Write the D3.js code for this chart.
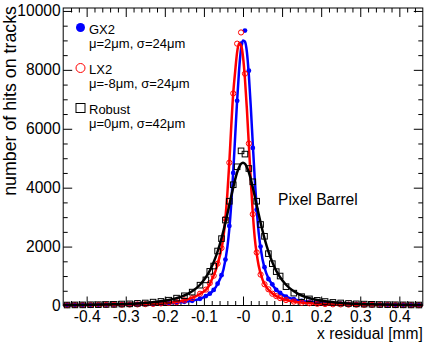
<!DOCTYPE html>
<html>
<head>
<meta charset="utf-8">
<script src="https://cdn.jsdelivr.net/npm/d3@7"></script>
<style>
  body { margin: 0; background: #fff; }
  text { font-family: "Liberation Sans", Arial, Helvetica, sans-serif; }
</style>
</head>
<body>
<svg id="chart" width="431" height="343"></svg>
<script>
// residual histograms: 0.02 mm bins in the tails, 0.01 mm bins in the core
const binCenters = [...d3.range(-0.45, -0.1, 0.02), ...d3.range(-0.095, 0.1, 0.01), ...d3.range(0.11, 0.46, 0.02)];

const gx2Hits = [17,19,20,24,24,28,29,35,37,44,49,58,66,81,96,127,160,230,
  320,400,530,740,1030,1560,2700,4500,6950,8890,9335,7970,5350,3250,2000,1300,900,720,530,430,
  300,218,160,120,95,82,67,59,48,44,38,35,30,29,24,24,20,19];
const lx2Hits = [13,15,17,17,21,21,26,27,33,37,46,53,71,87,113,176,250,400,
  540,760,1010,1420,1950,2950,4850,7200,8890,9270,7870,5500,3100,1800,1050,720,550,400,320,250,
  185,132,93,76,58,50,41,37,30,28,23,22,18,18,15,15,12,12];
const robustHits = [16,20,21,26,28,35,39,50,56,73,85,115,138,180,250,330,455,690,
  870,1160,1340,1850,2270,2900,3540,4100,4710,5250,5140,4650,4200,3540,2750,2350,1760,1420,1150,1000,
  640,420,300,225,175,135,105,86,70,56,47,41,34,29,25,22,19,17];

// fitted curves, read at these x positions
const fitX = [-0.46,-0.42,-0.38,-0.34,-0.30,-0.26,-0.22,-0.19,-0.16,-0.14,-0.12,-0.11,-0.10,-0.09,-0.08,-0.07,-0.06,-0.05,-0.04,-0.035,
  -0.03,-0.025,-0.02,-0.015,-0.01,-0.005,0,0.005,0.01,0.015,0.02,0.025,0.03,0.035,0.04,0.05,0.06,0.07,0.08,0.09,
  0.10,0.11,0.12,0.14,0.16,0.19,0.22,0.26,0.30,0.34,0.38,0.42,0.46];
const gx2Fit = [17,20,24,29,36,46,61,79,108,140,190,225,282,355,458,616,866,1224,1980,2600,
  3470,4540,5750,6970,7990,8720,9000,8960,8600,7810,6730,5500,4310,3280,2480,1560,1080,808,616,476,
  378,304,250,182,135,98,74,54,41,32,27,22,18];
const lx2Fit = [13,16,19,23,30,41,61,89,144,214,317,394,474,610,872,1186,1650,2333,3800,4850,
  6100,7200,7950,8600,8900,8830,8450,7690,6660,5450,4230,3150,2300,1760,1360,880,624,468,360,284,
  230,188,158,112,85,60,45,33,26,20,16,14,11];
const robustFit = [15,20,26,37,52,79,125,186,290,404,581,705,862,1062,1318,1641,2045,2536,3106,3409,
  3714,4010,4283,4516,4696,4811,4850,4811,4696,4516,4283,4010,3714,3409,3106,2536,2045,1641,1318,1062,
  862,705,581,404,290,186,125,79,52,37,26,20,15];

const xTicks = [-0.4,-0.3,-0.2,-0.1,0,0.1,0.2,0.3,0.4];
const xTickLabels = ["-0.4","-0.3","-0.2","-0.1","-0","0.1","0.2","0.3","0.4"];
const yTicks = [0,2000,4000,6000,8000,10000];

const legendNames = ["GX2","LX2","Robust"];
const legendStats = ["\u03bc=2\u03bcm, \u03c3=24\u03bcm","\u03bc=-8\u03bcm, \u03c3=24\u03bcm","\u03bc=0\u03bcm, \u03c3=42\u03bcm"];

const svg = d3.select("#chart");
const L = 63.2, R = 422.8, T = 8, B = 305.5;

const x = d3.scaleLinear().domain([-0.46, 0.46]).range([L, R]);
const y = d3.scaleLinear().domain([0, 10100]).range([B, T]);

const xMinor = d3.range(-0.44, 0.45, 0.02).filter(v => Math.abs(Math.round(v * 50) % 5) != 0);
const yMinor = d3.range(500, 10100, 500).filter(v => v % 2000 != 0);

function addAxis(axis, tr, cls) {
  svg.append("g").attr("class", cls).attr("transform", tr).call(axis)
    .call(g => g.select(".domain").remove());
}

// major and minor ticks on all four sides, pointing inwards
addAxis(d3.axisBottom(x).tickValues(xTicks).tickSize(-9).tickPadding(5)
  .tickFormat((d, i) => xTickLabels[i]), `translate(0,${B})`, "xaxis");
addAxis(d3.axisBottom(x).tickValues(xMinor).tickSize(-4.5).tickFormat(""), `translate(0,${B})`, "minor");
addAxis(d3.axisTop(x).tickValues(xTicks).tickSize(-9).tickFormat(""), `translate(0,${T})`, "minor");
addAxis(d3.axisTop(x).tickValues(xMinor).tickSize(-4.5).tickFormat(""), `translate(0,${T})`, "minor");
addAxis(d3.axisLeft(y).tickValues(yTicks).tickSize(-9).tickPadding(2.5)
  .tickFormat(d3.format("d")), `translate(${L},0)`, "yaxis");
addAxis(d3.axisLeft(y).tickValues(yMinor).tickSize(-4.5).tickFormat(""), `translate(${L},0)`, "minor");
addAxis(d3.axisRight(y).tickValues(yTicks).tickSize(-9).tickFormat(""), `translate(${R},0)`, "minor");
addAxis(d3.axisRight(y).tickValues(yMinor).tickSize(-4.5).tickFormat(""), `translate(${R},0)`, "minor");

svg.selectAll(".tick line").attr("stroke", "#000").attr("stroke-width", 1);
svg.selectAll(".xaxis text, .yaxis text").attr("font-size", 15.6).attr("fill", "#000")
  .attr("font-family", "Liberation Sans, Arial, sans-serif");

svg.append("rect").attr("x", L).attr("y", T).attr("width", R - L).attr("height", B - T)
  .attr("fill", "none").attr("stroke", "#000").attr("stroke-width", 1);

// axis titles
svg.append("text").attr("x", R).attr("y", 339).attr("text-anchor", "end")
  .attr("font-size", 15.6).text("x residual [mm]");
svg.append("text").attr("transform", "translate(16,6) rotate(-90)").attr("text-anchor", "end")
  .attr("font-size", 17.8).text("number of hits on tracks");

const plot = svg.append("g");
const fitLine = vals => d3.line().x((d, i) => x(fitX[i])).y(d => y(d)).curve(d3.curveMonotoneX)(vals);

function drawSeries(hits, fit, color, kind) {
  const g = plot.append("g");
  if (kind == "disc") {
    g.selectAll("circle").data(hits).enter().append("circle")
      .attr("cx", (d, i) => x(binCenters[i])).attr("cy", d => y(d)).attr("r", 2.4)
      .attr("fill", color);
  } else if (kind == "circle") {
    g.selectAll("circle").data(hits).enter().append("circle")
      .attr("cx", (d, i) => x(binCenters[i])).attr("cy", d => y(d)).attr("r", 2.6)
      .attr("fill", "none").attr("stroke", color).attr("stroke-width", 1);
  } else {
    g.selectAll("rect").data(hits).enter().append("rect")
      .attr("x", (d, i) => x(binCenters[i]) - 2.8).attr("y", d => y(d) - 2.8)
      .attr("width", 5.6).attr("height", 5.6)
      .attr("fill", "none").attr("stroke", color).attr("stroke-width", 1);
  }
  g.append("path").attr("d", fitLine(fit)).attr("fill", "none")
    .attr("stroke", color).attr("stroke-width", 2.5);
}

drawSeries(gx2Hits, gx2Fit, "#0000ff", "disc");
drawSeries(lx2Hits, lx2Fit, "#ff0000", "circle");
drawSeries(robustHits, robustFit, "#000000", "square");

// legend
const leg = svg.append("g");
const legY = [27.5, 68, 108];
leg.append("circle").attr("cx", 80.5).attr("cy", legY[0]).attr("r", 4.5).attr("fill", "#0000ff");
leg.append("circle").attr("cx", 80.5).attr("cy", legY[1]).attr("r", 4.5)
  .attr("fill", "none").attr("stroke", "#ff0000").attr("stroke-width", 1);
leg.append("rect").attr("x", 76).attr("y", legY[2] - 4.5).attr("width", 9).attr("height", 9)
  .attr("fill", "none").attr("stroke", "#000").attr("stroke-width", 1);
legendNames.forEach((n, i) => {
  leg.append("text").attr("x", 89).attr("y", legY[i] + 6).attr("font-size", 13).text(n);
  leg.append("text").attr("x", 89).attr("y", legY[i] + 20).attr("font-size", 13).text(legendStats[i]);
});

svg.append("text").attr("x", 278).attr("y", 205).attr("font-size", 15.6).text("Pixel Barrel");
</script>
</body>
</html>
